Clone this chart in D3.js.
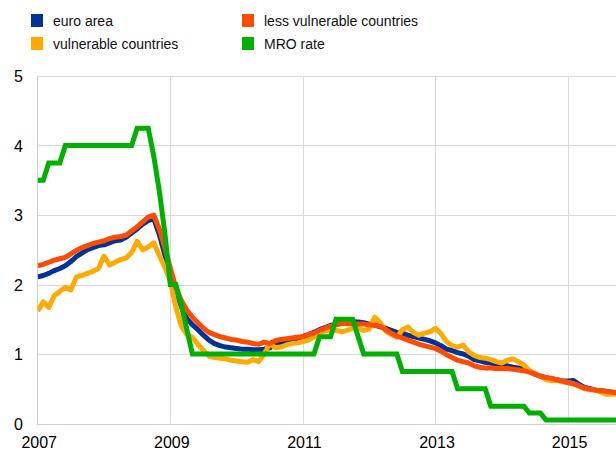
<!DOCTYPE html>
<html>
<head>
<meta charset="utf-8">
<script src="https://cdn.jsdelivr.net/npm/d3@7"></script>
<style>
  html, body { margin: 0; padding: 0; background: #fff; }
  svg { display: block; font-family: Arial, "Liberation Sans", sans-serif; }
</style>
</head>
<body>
<svg id="chart" width="616" height="457"></svg>
<script>
// ---- data (monthly, Jan 2007 .. Oct 2015) ----
const months = d3.timeMonth.range(new Date(2007, 0, 1), new Date(2015, 10, 1));

const euroArea = [
  2.11,2.13,2.16,2.20,2.23,2.27,2.33,2.40,2.45,2.50,2.53,2.56,
  2.57,2.60,2.63,2.64,2.68,2.74,2.80,2.87,2.92,2.95,2.72,2.43,
  2.15,1.90,1.68,1.51,1.42,1.35,1.27,1.20,1.15,1.12,1.10,1.09,
  1.08,1.07,1.07,1.06,1.06,1.07,1.09,1.13,1.17,1.19,1.20,1.22,
  1.25,1.28,1.31,1.35,1.38,1.41,1.43,1.44,1.46,1.46,1.46,1.45,
  1.43,1.42,1.39,1.37,1.34,1.31,1.30,1.27,1.25,1.23,1.21,1.19,
  1.16,1.12,1.07,1.05,1.02,1.00,0.97,0.92,0.90,0.88,0.87,0.85,
  0.84,0.83,0.81,0.80,0.78,0.75,0.71,0.68,0.66,0.64,0.63,0.61,
  0.61,0.62,0.56,0.52,0.50,0.48,0.47,0.46,0.45,0.44
];
const lessVulnerable = [
  2.27,2.29,2.32,2.35,2.37,2.39,2.44,2.49,2.53,2.56,2.59,2.61,
  2.63,2.66,2.68,2.69,2.71,2.77,2.83,2.90,2.97,3.00,2.80,2.53,
  2.24,1.95,1.77,1.63,1.53,1.45,1.37,1.31,1.28,1.25,1.23,1.21,
  1.20,1.18,1.17,1.15,1.14,1.17,1.15,1.19,1.21,1.22,1.23,1.24,
  1.25,1.28,1.30,1.34,1.37,1.40,1.42,1.44,1.44,1.44,1.43,1.43,
  1.42,1.41,1.40,1.35,1.30,1.26,1.23,1.20,1.17,1.14,1.12,1.10,
  1.08,1.04,0.99,0.95,0.91,0.89,0.87,0.83,0.81,0.80,0.80,0.79,
  0.79,0.79,0.78,0.77,0.76,0.74,0.71,0.68,0.66,0.65,0.63,0.61,
  0.59,0.57,0.54,0.51,0.49,0.48,0.47,0.46,0.45,0.44
];
const vulnerable = [
  1.62,1.75,1.67,1.84,1.90,1.96,1.92,2.11,2.13,2.16,2.19,2.23,
  2.41,2.28,2.32,2.36,2.38,2.46,2.62,2.50,2.54,2.60,2.42,2.25,
  2.05,1.68,1.40,1.28,1.24,1.14,1.05,0.97,0.95,0.94,0.93,0.91,
  0.90,0.89,0.88,0.92,0.89,1.00,1.15,1.09,1.10,1.13,1.15,1.16,
  1.18,1.20,1.24,1.31,1.33,1.35,1.34,1.32,1.34,1.37,1.37,1.34,
  1.36,1.53,1.45,1.33,1.28,1.24,1.35,1.39,1.31,1.27,1.30,1.32,
  1.37,1.29,1.18,1.12,1.10,1.13,1.03,0.98,0.95,0.94,0.92,0.89,
  0.87,0.91,0.93,0.89,0.84,0.76,0.72,0.68,0.63,0.62,0.62,0.60,
  0.59,0.57,0.54,0.50,0.49,0.48,0.45,0.42,0.42,0.42
];
const mroRate = [
  3.50,3.50,3.75,3.75,3.75,4.00,4.00,4.00,4.00,4.00,4.00,4.00,
  4.00,4.00,4.00,4.00,4.00,4.00,4.25,4.25,4.25,3.85,3.35,2.75,
  2.00,2.00,1.70,1.35,1.00,1.00,1.00,1.00,1.00,1.00,1.00,1.00,
  1.00,1.00,1.00,1.00,1.00,1.00,1.00,1.00,1.00,1.00,1.00,1.00,
  1.00,1.00,1.00,1.25,1.25,1.25,1.50,1.50,1.50,1.50,1.25,1.00,
  1.00,1.00,1.00,1.00,1.00,1.00,0.75,0.75,0.75,0.75,0.75,0.75,
  0.75,0.75,0.75,0.75,0.50,0.50,0.50,0.50,0.50,0.50,0.25,0.25,
  0.25,0.25,0.25,0.25,0.25,0.15,0.15,0.15,0.05,0.05,0.05,0.05,
  0.05,0.05,0.05,0.05,0.05,0.05,0.05,0.05,0.05,0.05
];
const xTickYears = [2007, 2009, 2011, 2013, 2015];
const xTickLabels = ["2007", "2009", "2011", "2013", "2015"];
const yTicks = [0, 1, 2, 3, 4, 5];

const seriesNames = ["euro area", "less vulnerable countries", "vulnerable countries", "MRO rate"];
const seriesColors = ["#003399", "#FF4B00", "#FFAA00", "#00B000"];

// ---- layout ----
const svg = d3.select("#chart");
const plotLeft = 37.7, plotRight = 616, plotTop = 76, plotBottom = 423.5;

// month index scale (equal spacing per month)
const x = d3.scaleLinear().domain([0, 104.67]).range([plotLeft, plotRight]);
const y = d3.scaleLinear().domain([0, 5]).range([plotBottom, plotTop]);
const mIndex = d => (d.getFullYear() - 2007) * 12 + d.getMonth();

// gridlines
const grid = svg.append("g");
grid.selectAll("line.h").data(yTicks.filter(v => v > 0)).enter().append("line")
  .attr("x1", plotLeft).attr("x2", plotRight)
  .attr("y1", d => Math.round(y(d)) + 0.5).attr("y2", d => Math.round(y(d)) + 0.5)
  .attr("stroke", "#d9d9d9").attr("stroke-width", 1);
grid.selectAll("line.v").data(xTickYears.slice(1)).enter().append("line")
  .attr("x1", d => Math.round(x((d - 2007) * 12)) + 0.5)
  .attr("x2", d => Math.round(x((d - 2007) * 12)) + 0.5)
  .attr("y1", plotTop).attr("y2", plotBottom)
  .attr("stroke", "#d9d9d9").attr("stroke-width", 1);
// axis lines
svg.append("line").attr("x1", Math.round(plotLeft) - 0.5).attr("x2", Math.round(plotLeft) - 0.5)
  .attr("y1", plotTop).attr("y2", plotBottom + 0.5).attr("stroke", "#cfcfcf");
svg.append("line").attr("x1", plotLeft - 1).attr("x2", plotRight)
  .attr("y1", Math.round(plotBottom) + 0.5).attr("y2", Math.round(plotBottom) + 0.5).attr("stroke", "#cfcfcf");

// y labels
svg.append("g").selectAll("text").data(yTicks).enter().append("text")
  .attr("x", 23).attr("y", d => y(d) + 6)
  .attr("text-anchor", "end").attr("font-size", 16).attr("fill", "#000")
  .text(d => d);
// x labels
svg.append("g").selectAll("text").data(xTickYears).enter().append("text")
  .attr("x", (d, i) => x((d - 2007) * 12) + 1.5).attr("y", 448)
  .attr("text-anchor", "middle").attr("font-size", 16).attr("fill", "#000")
  .text((d, i) => xTickLabels[i]);

// lines
svg.append("clipPath").attr("id", "plotclip").append("rect")
  .attr("x", plotLeft).attr("y", 0).attr("width", plotRight - plotLeft).attr("height", 457);

const line = d3.line().x((d, i) => x(mIndex(months[i]))).y(d => y(d));
const drawOrder = [
  { data: euroArea, color: seriesColors[0], join: "round" },
  { data: vulnerable, color: seriesColors[2], join: "round" },
  { data: lessVulnerable, color: seriesColors[1], join: "round" },
  { data: mroRate, color: seriesColors[3], join: "miter" }
];
const lg = svg.append("g").attr("clip-path", "url(#plotclip)");
drawOrder.forEach(s => {
  lg.append("path").datum(s.data)
    .attr("d", line)
    .attr("fill", "none")
    .attr("stroke", s.color)
    .attr("stroke-width", 5)
    .attr("stroke-linejoin", s.join)
    .attr("stroke-linecap", "butt");
});

// legend
const legendPos = [[31, 14], [242, 14], [31, 37], [242, 37]];
const leg = svg.append("g");
seriesNames.forEach((n, i) => {
  const [lx, ly] = legendPos[i];
  leg.append("rect").attr("x", lx).attr("y", ly).attr("width", 12).attr("height", 13)
    .attr("fill", seriesColors[i]);
  leg.append("text").attr("x", lx + 22).attr("y", ly + 11.5)
    .attr("font-size", 14).attr("fill", "#111").text(n);
});
</script>
</body>
</html>
